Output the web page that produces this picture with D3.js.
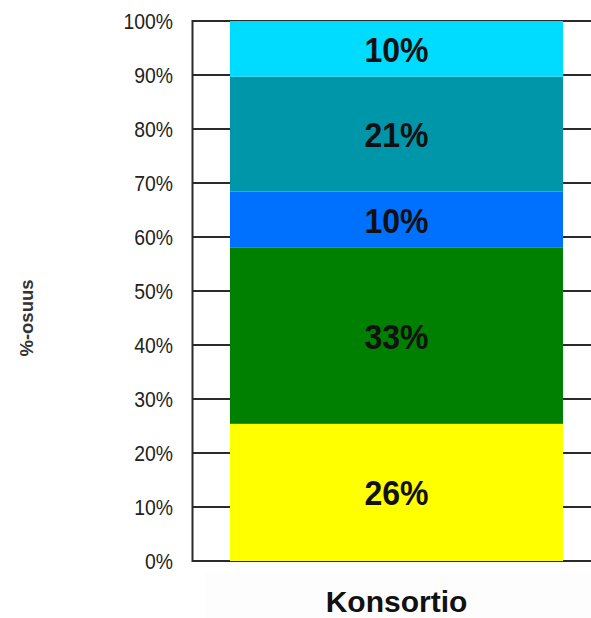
<!DOCTYPE html>
<html>
<head>
<meta charset="utf-8">
<script src="https://cdn.jsdelivr.net/npm/d3@7/dist/d3.min.js"></script>
<style>
  html, body { margin: 0; padding: 0; background: #ffffff; }
  svg { display: block; }
  text { font-family: "Liberation Sans", Arial, sans-serif; }
</style>
</head>
<body>
<svg id="chart" width="591" height="618"></svg>
<script>
// ---- data ----
const categories = ["Konsortio"];
const segmentNames = ["s1", "s2", "s3", "s4", "s5"];
const segmentValues = [25.4, 32.6, 10.4, 21.3, 10.3];
const segmentLabels = ["26%", "33%", "10%", "21%", "10%"];
const segmentColors = ["#ffff00", "#008000", "#0070ff", "#0096aa", "#00dcff"];
const tickValues = [0, 10, 20, 30, 40, 50, 60, 70, 80, 90, 100];
const tickLabels = ["0%", "10%", "20%", "30%", "40%", "50%", "60%", "70%", "80%", "90%", "100%"];
const yTitle = "%-osuus";

// ---- layout ----
const svg = d3.select("#chart");
const plotLeft = 192, plotRight = 601, plotTop = 21, plotBottom = 561;

const y = d3.scaleLinear().domain([0, 100]).range([plotBottom, plotTop]);
const x = d3.scaleBand().domain(categories).range([plotLeft, plotRight])
  .paddingInner(0).paddingOuter(0.114);

// faint background behind category label
svg.append("rect").attr("x", 205).attr("y", 572).attr("width", 386).attr("height", 46)
  .attr("fill", "#fdfdfd");

// gridlines
svg.append("g").selectAll("line").data(tickValues).join("line")
  .attr("x1", plotLeft).attr("x2", 591)
  .attr("y1", d => y(d)).attr("y2", d => y(d))
  .attr("stroke", "#2a2a2a").attr("stroke-width", 2);

// y axis line
svg.append("line").attr("x1", plotLeft + 0.5).attr("x2", plotLeft + 0.5)
  .attr("y1", y(100) - 1).attr("y2", y(0) + 1)
  .attr("stroke", "#2a2a2a").attr("stroke-width", 2);

// stacked segments
let cum = 0;
const segs = segmentValues.map((v, i) => {
  const s = { y0: cum, y1: cum + v, color: segmentColors[i], label: segmentLabels[i], name: segmentNames[i] };
  cum += v;
  return s;
});

const bar = svg.append("g");
bar.selectAll("rect").data(segs).join("rect")
  .attr("x", x(categories[0]))
  .attr("width", x.bandwidth())
  .attr("y", d => y(d.y1))
  .attr("height", d => y(d.y0) - y(d.y1))
  .attr("fill", d => d.color);

const cx = x(categories[0]) + x.bandwidth() / 2;
bar.selectAll("text").data(segs).join("text")
  .attr("transform", d => `translate(${cx},${(y(d.y0) + y(d.y1)) / 2 + 13}) scale(0.89,1)`)
  .attr("text-anchor", "middle")
  .attr("font-size", 36)
  .attr("font-weight", "bold")
  .attr("fill", "#111")
  .text(d => d.label);

// tick labels
svg.append("g").selectAll("text").data(tickValues).join("text")
  .attr("transform", d => `translate(173,${y(d) + 7.5}) scale(0.9,1)`)
  .attr("text-anchor", "end")
  .attr("font-size", 21.5)
  .attr("fill", "#222")
  .text((d, i) => tickLabels[i]);

// category label
svg.append("text")
  .attr("x", cx).attr("y", 612)
  .attr("text-anchor", "middle")
  .attr("font-size", 30)
  .attr("font-weight", "bold")
  .attr("fill", "#111")
  .text(categories[0]);

// y title
svg.append("text")
  .attr("transform", "translate(33,318) rotate(-90)")
  .attr("text-anchor", "middle")
  .attr("font-size", 18.5)
  .attr("font-weight", "bold")
  .attr("fill", "#333")
  .text(yTitle);
</script>
</body>
</html>
